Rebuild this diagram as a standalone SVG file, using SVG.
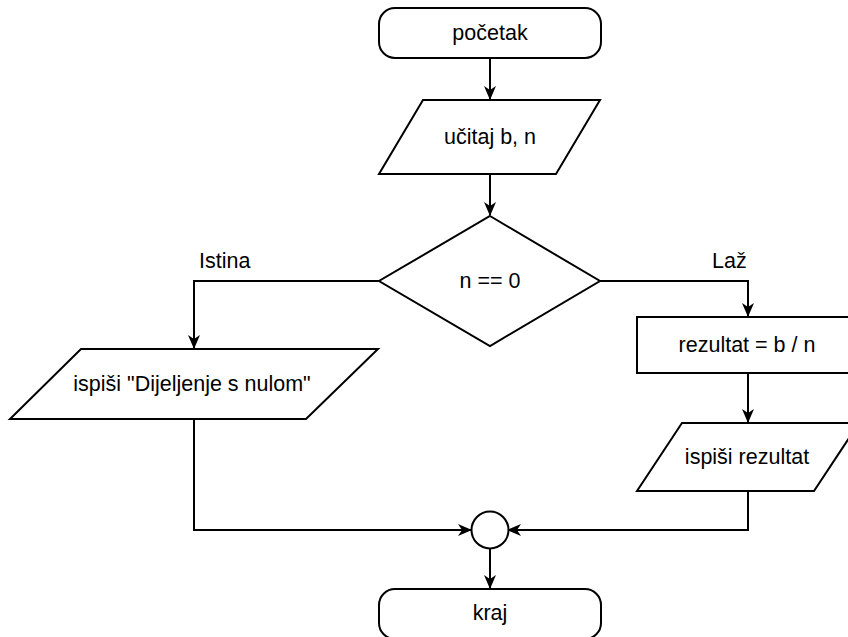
<svg xmlns="http://www.w3.org/2000/svg" width="848" height="637" viewBox="0 0 848 637">
  <defs>
    <style>
      .shape { fill: #ffffff; stroke: #000000; stroke-width: 2; }
      .edge { fill: none; stroke: #000000; stroke-width: 2; }
      text { font-family: "Liberation Sans", Arial, sans-serif; font-size: 21.5px; fill: #000000; }
      .c { text-anchor: middle; dominant-baseline: central; }
    </style>
    <marker id="arrow" viewBox="0 0 14 12" refX="13" refY="6" markerWidth="14" markerHeight="12" markerUnits="userSpaceOnUse" orient="auto">
      <path d="M0,0 L14,6 L0,12 L4,6 Z" fill="#000000"/>
    </marker>
  </defs>
  <rect width="848" height="637" fill="#ffffff"/>

  <!-- connectors -->
  <g id="connectors">
    <path class="edge" d="M490,58 V99" marker-end="url(#arrow)"/>
    <path class="edge" d="M490,174 V215" marker-end="url(#arrow)"/>
    <path class="edge" d="M379,281 H194 V348" marker-end="url(#arrow)"/>
    <path class="edge" d="M600,281 H748 V316" marker-end="url(#arrow)"/>
    <path class="edge" d="M748,373 V422" marker-end="url(#arrow)"/>
    <path class="edge" d="M194,419 V530 H471" marker-end="url(#arrow)"/>
    <path class="edge" d="M748,491 V530 H508" marker-end="url(#arrow)"/>
    <path class="edge" d="M490,548 V588" marker-end="url(#arrow)"/>
    <text x="199" y="268">Istina</text>
    <text x="712" y="268">Laž</text>
  </g>

  <g id="start">
    <rect class="shape" x="379" y="8" width="222" height="50" rx="16" ry="16"/>
    <text class="c" x="490" y="33">početak</text>
  </g>

  <g id="input">
    <polygon class="shape" points="423,100 600,100 556,174 379,174"/>
    <text class="c" x="490" y="137">učitaj b, n</text>
  </g>

  <g id="decision">
    <polygon class="shape" points="490,216 600,281 490,346 379,281"/>
    <text class="c" x="490" y="281">n == 0</text>
  </g>

  <g id="output-error">
    <polygon class="shape" points="81,349 378,349 306,419 10,419"/>
    <text class="c" x="192" y="384">ispiši "Dijeljenje s nulom"</text>
  </g>

  <g id="compute">
    <rect class="shape" x="637" y="317" width="221" height="56"/>
    <text class="c" x="747" y="345">rezultat = b / n</text>
  </g>

  <g id="output-result">
    <polygon class="shape" points="682,423 859,423 814,491 637,491"/>
    <text class="c" x="747" y="457">ispiši rezultat</text>
  </g>

  <g id="merge">
    <circle class="shape" cx="490" cy="530" r="18.5"/>
  </g>

  <g id="end">
    <rect class="shape" x="379" y="589" width="222" height="50" rx="16" ry="16"/>
    <text class="c" x="490" y="613">kraj</text>
  </g>
</svg>
